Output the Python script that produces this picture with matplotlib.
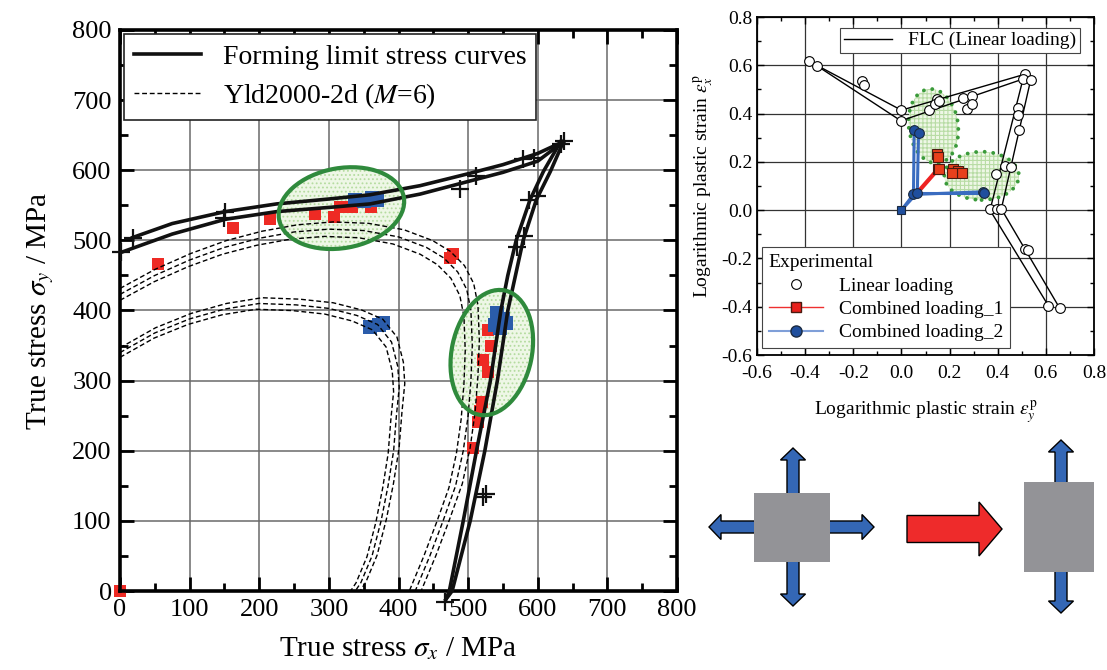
import matplotlib
matplotlib.use('Agg')
import matplotlib.pyplot as plt
from matplotlib.patches import Ellipse, FancyArrow, Rectangle
from matplotlib.lines import Line2D

plt.rcParams['font.family'] = ['Liberation Serif', 'DejaVu Serif']
plt.rcParams['mathtext.fontset'] = 'stix'
plt.rcParams['axes.unicode_minus'] = False
plt.rcParams['hatch.linewidth'] = 0.8

# ---------------- main plot: stresses in MPa ----------------
# forming limit stress curves (two curves, each with two branches)
flc1_sx = [18, 75, 151, 225, 300, 359, 431, 500, 550, 600, 637]
flc1_sy = [504, 524, 541, 552, 559, 565, 578, 595, 608, 624, 641]
flc2_sx = [2, 75, 151, 225, 300, 359, 431, 500, 550, 600, 637]
flc2_sy = [483, 509, 530, 541, 547, 552, 566, 584, 597, 613, 641]
flc3_sy = [641, 598, 558, 500, 450, 400, 300, 200, 100, 0, -12]
flc3_sx = [637, 618, 598, 579, 568, 557, 542, 524, 503, 477, 468]
flc4_sy = [641, 598, 558, 500, 450, 400, 300, 200, 100, 0, -12]
flc4_sx = [633, 608, 589, 569, 557, 547, 532, 512, 493, 473, 468]
plus_sx = [2, 18, 151, 149, 488, 512, 579, 594, 637, 634, 587, 599, 570, 580, 521, 525, 467]
plus_sy = [483, 504, 541, 532, 573, 592, 616, 618, 641, 638, 558, 563, 491, 506, 134, 139, -16]

# Yld2000-2d loci (mid curve) and the three plotted levels
yld_in_sx = [0, 50, 100, 150, 200, 253, 300, 340, 370, 390, 399, 401, 397, 393, 385, 375, 362, 346, 338, 326]
yld_in_sy = [340, 368, 388, 402, 410, 408, 403, 393, 380, 355, 320, 290, 250, 200, 150, 100, 50, 12, 0, -20]
yld_out_sx = [0, 50, 100, 150, 200, 250, 300, 350, 400, 440, 465, 485, 498, 504, 506, 504, 500, 493, 482, 464, 445, 424, 408]
yld_out_sy = [423, 450, 472, 490, 503, 512, 516, 514, 505, 490, 475, 455, 430, 400, 350, 300, 250, 200, 150, 100, 50, 0, -30]
yld_levels = [0.98, 1.0, 1.02]

# experimental limit stresses
red_sx = [0, 54, 163, 216, 280, 307, 316, 333, 360, 474, 478,
          529, 533, 521, 528, 520, 517, 514, 507]
red_sy = [0, 467, 518, 531, 537, 534, 548, 547, 547, 475, 480,
          372, 349, 330, 313, 270, 256, 241, 204]
blue_sx = [338, 350, 362, 369, 359, 372, 378, 541, 546, 555, 550, 538]
blue_sy = [558, 556, 560, 558, 377, 380, 382, 396, 375, 382, 388, 380]

# ---------------- inset: plastic strains ----------------
flc_out_ey = [-0.382, 0.0, 0.513, 0.537, 0.415, 0.658]
flc_out_ex = [0.616, 0.414, 0.563, 0.540, 0.005, -0.407]
flc_in_ey = [-0.351, -0.002, 0.505, 0.368, 0.610]
flc_in_ex = [0.598, 0.370, 0.543, 0.000, -0.395]
lin_ey = [-0.382, -0.351, -0.164, -0.157, 0.0, -0.002, 0.116, 0.147, 0.140, 0.155,
          0.257, 0.292, 0.271, 0.292, 0.513, 0.505, 0.537, 0.486, 0.483, 0.490,
          0.430, 0.393, 0.455, 0.368, 0.395, 0.415, 0.513, 0.527, 0.610, 0.658]
lin_ex = [0.616, 0.598, 0.535, 0.520, 0.414, 0.370, 0.415, 0.459, 0.440, 0.450,
          0.466, 0.473, 0.420, 0.438, 0.563, 0.543, 0.540, 0.425, 0.393, 0.333,
          0.183, 0.148, 0.180, 0.003, 0.003, 0.005, -0.163, -0.166, -0.395, -0.407]
cl2_path_a_ey = [0.0, 0.050, 0.053]
cl2_path_a_ex = [0.0, 0.065, 0.332]
cl2_path_b_ey = [0.0, 0.066, 0.071]
cl2_path_b_ex = [0.0, 0.072, 0.318]
cl2_path_c_ey = [0.050, 0.338]
cl2_path_c_ex = [0.065, 0.076]
cl2_path_d_ey = [0.066, 0.345]
cl2_path_d_ex = [0.072, 0.072]
cl2_pts_ey = [0.050, 0.066, 0.053, 0.071, 0.338, 0.345]
cl2_pts_ex = [0.065, 0.072, 0.332, 0.318, 0.076, 0.072]
cl1_path_ey = [0.066, 0.154]
cl1_path_ex = [0.072, 0.172]
cl1_pts_ey = [0.154, 0.158, 0.147, 0.150, 0.216, 0.237, 0.250, 0.210]
cl1_pts_ex = [0.172, 0.172, 0.231, 0.220, 0.169, 0.162, 0.155, 0.155]

fig = plt.figure(figsize=(11.07, 6.70), dpi=100)

# ================= main plot =================
ax = fig.add_axes([120/1107, 1-591/670, 557/1107, 561/670])
ax.set_xlim(0, 800)
ax.set_ylim(0, 800)
ax.set_xticks(range(0, 801, 100))
ax.set_yticks(range(0, 801, 100))
ax.set_xticks(range(50, 800, 100), minor=True)
ax.set_yticks(range(50, 800, 100), minor=True)
ax.grid(True, which='major', color='#6a6a6a', lw=1.1)
ax.set_axisbelow(True)
ax.tick_params(which='both', direction='in', top=True, right=True, width=2, labelsize=19, pad=6)
ax.tick_params(which='major', length=10)
ax.tick_params(which='minor', length=6)
for s in ax.spines.values():
    s.set_linewidth(2.6)

green = '#2f8a3c'
ellipses_main = [(318, 546, 182, 114, 10), (534, 340, 181, 115, 78)]
for (cx, cy, w, h, ang) in ellipses_main:
    ax.add_patch(Ellipse((cx, cy), w, h, angle=ang, facecolor='#eef7e6',
                         edgecolor='#b5dca0', hatch='....', lw=0, zorder=1.5))

ax.plot(red_sx, red_sy, 's', color='#ee2a24', ms=9, mew=0, zorder=2, clip_on=False)
ax.plot(blue_sx, blue_sy, 's', color='#2a5caa', ms=10, mew=0, zorder=2)

for sx, sy in [(yld_in_sx, yld_in_sy), (yld_out_sx, yld_out_sy)]:
    for k in yld_levels:
        ax.plot([v * k for v in sx], [v * k for v in sy], color='k', lw=1.0,
                ls=(0, (3.5, 2)), zorder=3)

for sx, sy in [(flc1_sx, flc1_sy), (flc2_sx, flc2_sy), (flc3_sx, flc3_sy), (flc4_sx, flc4_sy)]:
    ax.plot(sx, sy, color='#111111', lw=2.6, zorder=4, clip_on=False, solid_joinstyle='round')
ax.plot(plus_sx, plus_sy, '+', color='#111111', ms=13, mew=1.6, zorder=4, clip_on=False)

for (cx, cy, w, h, ang) in ellipses_main:
    ax.add_patch(Ellipse((cx, cy), w, h, angle=ang, facecolor='none',
                         edgecolor=green, lw=3.0, zorder=5))

ax.set_xlabel(r'True stress $\sigma_x$ / MPa', fontsize=21, labelpad=10)
ax.set_ylabel(r'True stress $\sigma_y$ / MPa', fontsize=21, labelpad=12)

h_main = [Line2D([], [], color='#111111', lw=2.6),
          Line2D([], [], color='k', lw=1.0, ls=(0, (3.5, 2)))]
leg = ax.legend(h_main, ['Forming limit stress curves', r'Yld2000-2d ($M$=6)'],
                loc='upper left', bbox_to_anchor=(0.008, 0.992), fontsize=20,
                fancybox=False, framealpha=1, edgecolor='#222222', handlelength=2.4,
                borderpad=0.35, labelspacing=0.4, borderaxespad=0)
leg.get_frame().set_linewidth(1.2)
leg.set_zorder(6)

# ================= inset strain plot =================
bx = fig.add_axes([757/1107, 1-355/670, 337/1107, 338/670])
bx.set_xlim(-0.6, 0.8)
bx.set_ylim(-0.6, 0.8)
ticks = [-0.6, -0.4, -0.2, 0.0, 0.2, 0.4, 0.6, 0.8]
bx.set_xticks(ticks)
bx.set_yticks(ticks)
bx.set_xticklabels(['%.1f' % t for t in ticks])
bx.set_yticklabels(['%.1f' % t for t in ticks])
minor = [-0.5, -0.3, -0.1, 0.1, 0.3, 0.5, 0.7]
bx.set_xticks(minor, minor=True)
bx.set_yticks(minor, minor=True)
bx.grid(True, which='major', color='#333333', lw=0.9)
bx.set_axisbelow(True)
bx.tick_params(which='both', direction='in', top=True, right=True, labelsize=14, width=1)
bx.tick_params(which='major', length=5)
bx.tick_params(which='minor', length=3)
bx.tick_params(axis='x', pad=7)
for s in bx.spines.values():
    s.set_linewidth(1.3)

for (cx, cy, w, h, ang) in [(0.133, 0.348, 0.205, 0.31, 8), (0.333, 0.142, 0.31, 0.2, 0)]:
    bx.add_patch(Ellipse((cx, cy), w, h, angle=ang, facecolor='#eef7e6',
                         edgecolor='#b8dca5', hatch='++++', lw=0, zorder=1.5))
    bx.add_patch(Ellipse((cx, cy), w, h, angle=ang, facecolor='none', edgecolor='#3a9a3a',
                         lw=2.8, ls=(0, (0.01, 2.2)), capstyle='round', zorder=1.6))

bx.plot(flc_out_ey, flc_out_ex, color='k', lw=1.0, zorder=2)
bx.plot(flc_in_ey, flc_in_ex, color='k', lw=1.0, zorder=2)
bx.plot(lin_ey, lin_ex, 'o', mfc='white', mec='k', ms=7, mew=0.8, zorder=3)

blue_line = '#3a6cc0'
for ey, ex in [(cl2_path_a_ey, cl2_path_a_ex), (cl2_path_b_ey, cl2_path_b_ex),
               (cl2_path_c_ey, cl2_path_c_ex), (cl2_path_d_ey, cl2_path_d_ex)]:
    bx.plot(ey, ex, color=blue_line, lw=2.2, zorder=3)
bx.plot(cl1_path_ey, cl1_path_ex, color='#ee2222', lw=3, zorder=3)
bx.plot(cl2_pts_ey, cl2_pts_ex, 'o', mfc='#1f4f9e', mec='#1a2a40', ms=7, mew=0.8, zorder=4)
bx.plot([0.0], [0.0], 's', mfc='#1f4f9e', mec='#1a2a40', ms=6, mew=0.8, zorder=4)
bx.plot(cl1_pts_ey, cl1_pts_ex, 's', mfc='#e8401c', mec='#4a1a10', ms=7, mew=0.8, zorder=4)

bx.set_xlabel(r'Logarithmic plastic strain $\varepsilon^{\mathrm{p}}_{y}$', fontsize=14, labelpad=12)
bx.set_ylabel(r'Logarithmic plastic strain $\varepsilon^{\mathrm{p}}_{x}$', fontsize=14, labelpad=4)

leg1 = bx.legend([Line2D([], [], color='k', lw=1.0)], ['FLC (Linear loading)'],
                 loc='upper right', bbox_to_anchor=(0.958, 0.968), fontsize=14,
                 fancybox=False, framealpha=1, edgecolor='#444444', borderpad=0.2,
                 handlelength=2.5, borderaxespad=0)
leg1.get_frame().set_linewidth(0.8)
bx.add_artist(leg1)
h_exp = [Line2D([], [], ls='none', marker='o', mfc='white', mec='k', ms=7, mew=0.8),
         Line2D([], [], color='#ee3030', lw=1, marker='s', mfc='#e8201c', mec='#4a1a10', ms=7),
         Line2D([], [], color='#7f9fd8', lw=1.5, marker='o', mfc='#1f4f9e', mec='#1a2a40', ms=8)]
leg2 = bx.legend(h_exp, ['Linear loading', 'Combined loading_1', 'Combined loading_2'],
                 title='Experimental', title_fontsize=14, alignment='left',
                 loc='lower left', bbox_to_anchor=(0.015, 0.02), fontsize=14,
                 fancybox=False, framealpha=1, edgecolor='#444444', borderpad=0.35,
                 handlelength=2.8, labelspacing=0.3, borderaxespad=0)
leg2.get_frame().set_linewidth(0.8)

# ================= loading schematic (pixel coordinates) =================
cx = fig.add_axes([0, 0, 1, 1])
cx.set_xlim(0, 1107)
cx.set_ylim(670, 0)
cx.axis('off')
arrow_blue = '#3467b5'
sq_gray = '#939397'

def blue_arrow(x0, y0, x1, y1):
    cx.add_patch(FancyArrow(x0, y0, x1 - x0, y1 - y0, width=12, head_width=25,
                            head_length=12, length_includes_head=True,
                            facecolor=arrow_blue, edgecolor='k', lw=1.0))

# biaxial stage
for tip in [(793, 448), (793, 606), (709, 527), (874, 527)]:
    blue_arrow(793, 527, tip[0], tip[1])
cx.add_patch(Rectangle((754, 493), 76, 69, facecolor=sq_gray, edgecolor='none'))
# change of path
cx.add_patch(FancyArrow(907, 529, 95, 0, width=27, head_width=54, head_length=23,
                        length_includes_head=True, facecolor='#ee2b2b', edgecolor='k', lw=1.0))
# uniaxial stage
for tip in [(1061, 440), (1061, 613)]:
    blue_arrow(1061, 527, tip[0], tip[1])
cx.add_patch(Rectangle((1024, 482), 70, 90, facecolor=sq_gray, edgecolor='none'))

fig.savefig('out.png', dpi=100)
